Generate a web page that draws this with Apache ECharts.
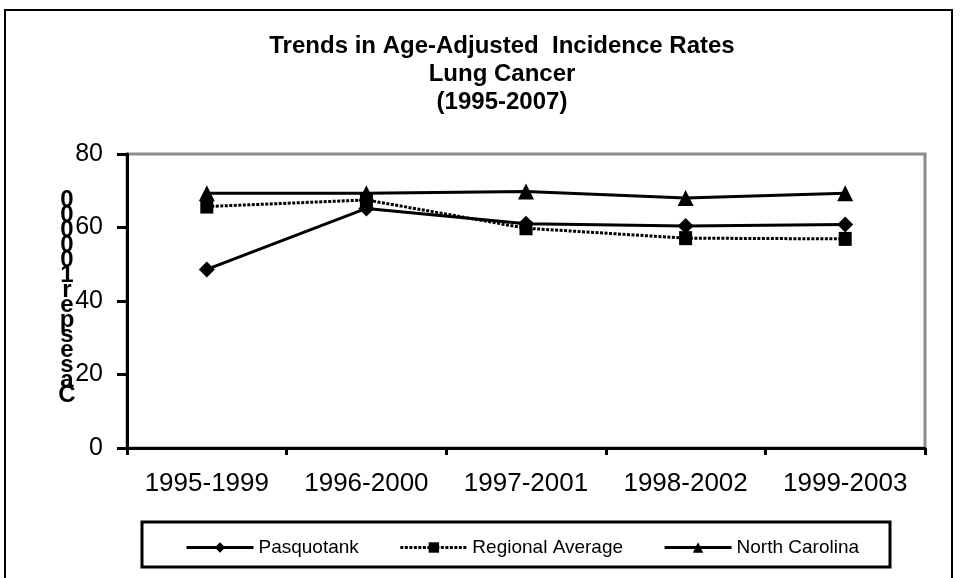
<!DOCTYPE html>
<html>
<head>
<meta charset="utf-8">
<script src="https://cdn.jsdelivr.net/npm/echarts@6/dist/echarts.min.js"></script>
<style>
html,body{margin:0;padding:0;background:#fff;}
#chart{width:961px;height:578px;}
</style>
</head>
<body>
<div id="chart"></div>
<script>
var categories = ['1995-1999', '1996-2000', '1997-2001', '1998-2002', '1999-2003'];
var pasquotank = [48.6, 65.2, 61.0, 60.4, 60.8];
var regionalAverage = [65.7, 67.5, 59.8, 57.1, 56.9];
var northCarolina = [69.3, 69.3, 69.8, 68.0, 69.3];
var seriesNames = ['Pasquotank', 'Regional Average', 'North Carolina'];
var yTicks = {min: 0, max: 80, interval: 20};
var titleText = 'Trends in Age-Adjusted  Incidence Rates\nLung Cancer\n(1995-2007)';
var yAxisLabelChars = ['0','0','0','0','0','1','r','e','p','s','e','s','a','C'];

var FONT = '"Liberation Sans", Arial, sans-serif';
var chart = echarts.init(document.getElementById('chart'), null, {renderer: 'canvas'});

chart.setOption({
  animation: false,
  backgroundColor: '#ffffff',
  title: {
    text: titleText,
    left: 497,
    textAlign: 'center',
    top: 27,
    textStyle: {fontFamily: FONT, fontWeight: 'bold', fontSize: 24, lineHeight: 28, color: '#000'}
  },
  grid: {
    left: 127, right: 36, top: 154, bottom: 130,
    show: true, borderColor: '#8c8c8c', borderWidth: 3, backgroundColor: '#fff'
  },
  legend: {
    data: seriesNames,
    left: 180,
    top: 533,
    itemWidth: 67,
    itemHeight: 13,
    itemGap: 40,
    lineStyle: {width: 3},
    textStyle: {fontFamily: FONT, fontSize: 19, color: '#000'}
  },
  xAxis: {
    type: 'category',
    data: categories,
    boundaryGap: true,
    axisLine: {show: true, lineStyle: {color: '#000', width: 3}},
    axisTick: {show: true, alignWithLabel: false, length: 7, lineStyle: {color: '#000', width: 3}},
    axisLabel: {fontFamily: FONT, fontSize: 26, color: '#000', margin: 23, interval: 0},
    splitLine: {show: false}
  },
  yAxis: {
    type: 'value',
    min: yTicks.min, max: yTicks.max, interval: yTicks.interval,
    axisLine: {show: true, lineStyle: {color: '#000', width: 3}},
    axisTick: {show: true, length: 10, lineStyle: {color: '#000', width: 3}},
    axisLabel: {fontFamily: FONT, fontSize: 25, color: '#000', margin: 24},
    splitLine: {show: false}
  },
  graphic: [
    {type: 'rect', z: -10, shape: {x: 5, y: 10, width: 947, height: 600}, style: {fill: 'none', stroke: '#000', lineWidth: 2}},
    {type: 'rect', z: 10, shape: {x: 142, y: 522, width: 748, height: 45}, style: {fill: 'none', stroke: '#000', lineWidth: 3}},
    {type: 'text', z: 20, x: 67, y: 193, style: {
      text: yAxisLabelChars.join('\n'),
      fontFamily: FONT, fontWeight: 'bold', fontSize: 24, lineHeight: 15,
      fill: '#000', align: 'center', verticalAlign: 'top'
    }}
  ],
  series: [
    {
      name: seriesNames[0], type: 'line', data: pasquotank,
      symbol: 'diamond', symbolSize: 16, z: 3,
      lineStyle: {color: '#000', width: 3, type: 'solid'},
      itemStyle: {color: '#000'}
    },
    {
      name: seriesNames[1], type: 'line', data: regionalAverage,
      symbol: 'rect', symbolSize: [13, 14], z: 2,
      lineStyle: {color: '#000', width: 3, type: [3, 1.5]},
      itemStyle: {color: '#000'}
    },
    {
      name: seriesNames[2], type: 'line', data: northCarolina,
      symbol: 'triangle', symbolSize: 16, z: 4,
      lineStyle: {color: '#000', width: 3, type: 'solid'},
      itemStyle: {color: '#000'}
    }
  ]
});
</script>
</body>
</html>
